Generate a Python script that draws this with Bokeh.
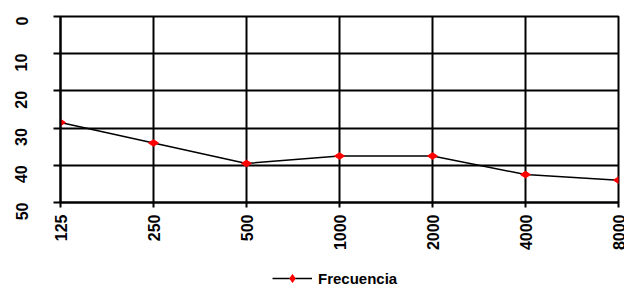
import math
from bokeh.plotting import figure
from bokeh.layouts import column
from bokeh.models import Range1d, FixedTicker, Legend, LegendItem, ColumnDataSource
from bokeh.embed import file_html
from bokeh.resources import INLINE

frequencies = ["125", "250", "500", "1000", "2000", "4000", "8000"]
levels = [28.5, 34, 39.5, 37.5, 37.5, 42.5, 44]
y_ticks = [0, 10, 20, 30, 40, 50]
series_name = "Frecuencia"

positions = list(range(len(frequencies)))
source = ColumnDataSource(dict(x=positions, y=levels, f=frequencies))

FONT = "Liberation Sans"

p = figure(width=624, height=260, output_backend="svg", toolbar_location=None,
           x_range=Range1d(0, len(frequencies) - 1),
           y_range=Range1d(max(y_ticks), min(y_ticks)),
           min_border_left=60, min_border_right=6, min_border_top=16,
           min_border_bottom=58)
p.background_fill_color = "white"
p.border_fill_color = "white"
p.outline_line_color = "black"
p.outline_line_width = 2

# x axis
p.xaxis.ticker = FixedTicker(ticks=positions)
p.xaxis.major_label_overrides = {i: f for i, f in enumerate(frequencies)}
p.xaxis.major_label_orientation = math.pi / 2
p.xaxis.minor_tick_line_color = None
p.xaxis.major_tick_out = 5
p.xaxis.major_tick_in = 0
p.xaxis.major_label_standoff = 7
p.xaxis.axis_line_width = 2
p.xaxis.major_tick_line_width = 2
p.xaxis.major_label_text_font = FONT
p.xaxis.major_label_text_font_style = "bold"
p.xaxis.major_label_text_font_size = "16px"
p.xaxis.major_label_text_color = "black"

# y axis
p.yaxis.ticker = FixedTicker(ticks=y_ticks)
p.yaxis.major_label_orientation = math.pi / 2
p.yaxis.minor_tick_line_color = None
p.yaxis.major_tick_out = 7
p.yaxis.major_tick_in = 0
p.yaxis.major_label_standoff = 32
p.yaxis.axis_line_width = 2
p.yaxis.major_tick_line_width = 2
p.yaxis.major_label_text_font = FONT
p.yaxis.major_label_text_font_style = "bold"
p.yaxis.major_label_text_font_size = "16px"
p.yaxis.major_label_text_color = "black"

# grids
p.xgrid.ticker = FixedTicker(ticks=positions)
p.ygrid.ticker = FixedTicker(ticks=y_ticks)
for g in (p.xgrid, p.ygrid):
    g.grid_line_color = "black"
    g.grid_line_width = 2
    g.grid_line_alpha = 1

line_style = dict(line_color="black", line_width=1.5)
marker_style = dict(marker="diamond", angle=math.pi / 2, size=10,
                    fill_color="red", line_color="red")

p.line("x", "y", source=source, **line_style)
p.scatter("x", "y", source=source, **marker_style)

# legend strip below the chart (its own renderers lie outside its ranges)
lg = figure(width=624, height=28, output_backend="svg", toolbar_location=None,
            x_range=Range1d(1000, 1001), y_range=Range1d(1000, 1001),
            x_axis_location=None, y_axis_location=None, min_border=0)
lg.outline_line_color = None
lg.xgrid.visible = False
lg.ygrid.visible = False
lg_line = lg.line("x", "y", source=source, **line_style)
lg_pts = lg.scatter("x", "y", source=source, **marker_style)

legend = Legend(items=[LegendItem(label=series_name, renderers=[lg_line, lg_pts])],
                location=(212, 0), orientation="horizontal",
                border_line_color=None, background_fill_alpha=0,
                label_text_font=FONT, label_text_font_style="bold",
                label_text_font_size="15px", label_text_color="black",
                glyph_width=40, glyph_height=20,
                padding=0, margin=0, spacing=0, label_standoff=6)
lg.add_layout(legend)

layout = column(p, lg, spacing=0)
open("out.html", "w").write(file_html(layout, INLINE))
